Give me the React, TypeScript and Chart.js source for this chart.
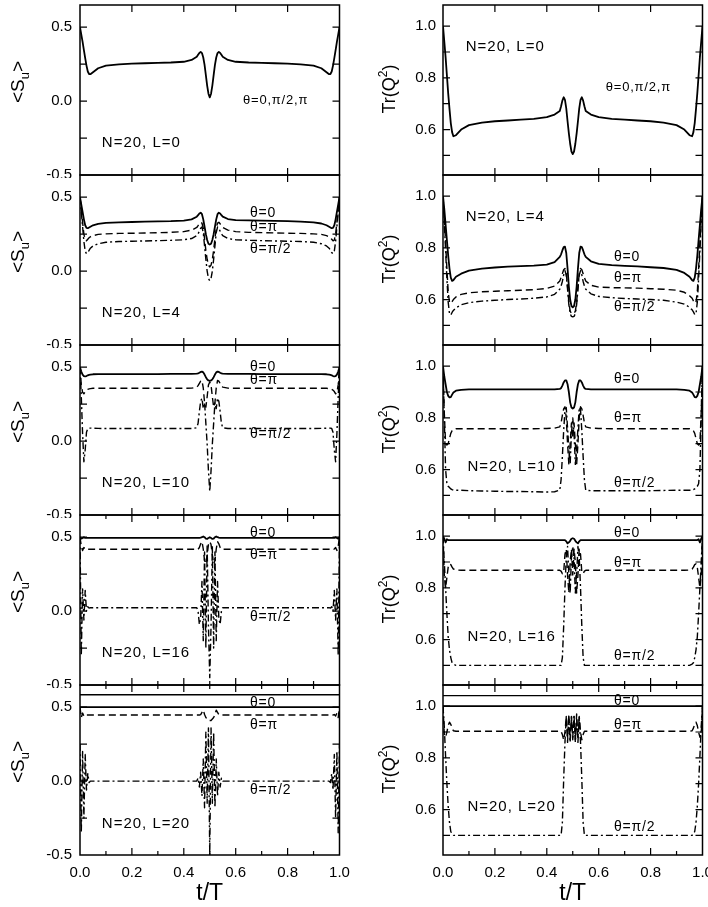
import React, { useEffect, useRef } from 'react';
import { Chart, registerables } from 'chart.js';

Chart.register(...registerables);

// ---------------- data ----------------
// shared time grid t/T
const T = [
  0, 0.005, 0.01, 0.015, 0.02, 0.025, 0.03, 0.035, 0.04, 0.05,
  0.07, 0.1, 0.15, 0.2, 0.25, 0.3, 0.35, 0.4, 0.43, 0.45,
  0.455, 0.46, 0.465, 0.47, 0.475, 0.48, 0.485, 0.49, 0.495, 0.5,
  0.505, 0.51, 0.515, 0.52, 0.525, 0.53, 0.535, 0.54, 0.545, 0.55,
  0.57, 0.6, 0.65, 0.7, 0.75, 0.8, 0.85, 0.9, 0.93, 0.95,
  0.96, 0.965, 0.97, 0.975, 0.98, 0.985, 0.99, 0.995, 1,
];

// L = 0 (all theta coincide)
const s_L0 = [
  0.50, 0.45, 0.40, 0.345, 0.29, 0.24, 0.20, 0.183, 0.182, 0.195,
  0.222, 0.240, 0.248, 0.253, 0.256, 0.258, 0.261, 0.266, 0.278, 0.300,
  0.313, 0.326, 0.333, 0.325, 0.295, 0.245, 0.175, 0.105, 0.05, 0.025,
  0.05, 0.105, 0.175, 0.245, 0.295, 0.325, 0.333, 0.326, 0.313, 0.300,
  0.278, 0.266, 0.261, 0.258, 0.256, 0.253, 0.248, 0.240, 0.222, 0.195,
  0.182, 0.183, 0.20, 0.24, 0.29, 0.345, 0.40, 0.45, 0.50,
];
const q_L0 = [
  1.00, 0.94, 0.88, 0.81, 0.74, 0.68, 0.625, 0.59, 0.574, 0.578,
  0.600, 0.617, 0.627, 0.632, 0.635, 0.638, 0.641, 0.648, 0.658, 0.672,
  0.690, 0.712, 0.725, 0.715, 0.682, 0.632, 0.585, 0.545, 0.515, 0.505,
  0.515, 0.545, 0.585, 0.632, 0.682, 0.715, 0.725, 0.712, 0.690, 0.672,
  0.658, 0.648, 0.641, 0.638, 0.635, 0.632, 0.627, 0.617, 0.600, 0.578,
  0.574, 0.59, 0.625, 0.68, 0.74, 0.81, 0.88, 0.94, 1.00,
];

// L = 4
const s_L4_th0 = [
  0.50, 0.45, 0.40, 0.35, 0.31, 0.292, 0.29, 0.295, 0.30, 0.31,
  0.32, 0.326, 0.330, 0.332, 0.334, 0.336, 0.338, 0.342, 0.350, 0.368,
  0.378, 0.390, 0.395, 0.385, 0.350, 0.300, 0.250, 0.210, 0.185, 0.180,
  0.185, 0.210, 0.250, 0.300, 0.350, 0.385, 0.395, 0.390, 0.378, 0.368,
  0.352, 0.345, 0.343, 0.342, 0.340, 0.338, 0.335, 0.330, 0.322, 0.310,
  0.300, 0.295, 0.290, 0.292, 0.31, 0.35, 0.40, 0.45, 0.50,
];
const s_L4_thPi = [
  0.50, 0.42, 0.33, 0.25, 0.21, 0.205, 0.215, 0.225, 0.232, 0.240,
  0.248, 0.252, 0.255, 0.256, 0.258, 0.260, 0.262, 0.267, 0.277, 0.295,
  0.307, 0.320, 0.330, 0.325, 0.290, 0.220, 0.140, 0.080, 0.040, 0.028,
  0.040, 0.080, 0.140, 0.220, 0.290, 0.325, 0.330, 0.320, 0.307, 0.295,
  0.277, 0.267, 0.262, 0.260, 0.258, 0.256, 0.255, 0.252, 0.248, 0.240,
  0.232, 0.225, 0.215, 0.205, 0.21, 0.25, 0.33, 0.42, 0.50,
];
const s_L4_thHalf = [
  0.50, 0.40, 0.30, 0.20, 0.135, 0.118, 0.125, 0.140, 0.155, 0.170,
  0.185, 0.195, 0.200, 0.202, 0.204, 0.206, 0.208, 0.212, 0.220, 0.240,
  0.252, 0.270, 0.290, 0.298, 0.260, 0.170, 0.080, 0.000, -0.050, -0.065,
  -0.050, 0.000, 0.080, 0.170, 0.260, 0.298, 0.290, 0.270, 0.252, 0.240,
  0.220, 0.212, 0.208, 0.206, 0.204, 0.202, 0.200, 0.195, 0.185, 0.170,
  0.155, 0.140, 0.125, 0.118, 0.135, 0.20, 0.30, 0.40, 0.50,
];
const q_L4_th0 = [
  1.00, 0.95, 0.89, 0.83, 0.77, 0.72, 0.685, 0.672, 0.675, 0.688,
  0.700, 0.712, 0.720, 0.724, 0.727, 0.729, 0.731, 0.735, 0.745, 0.765,
  0.775, 0.790, 0.803, 0.805, 0.780, 0.720, 0.650, 0.600, 0.575, 0.570,
  0.575, 0.600, 0.650, 0.720, 0.780, 0.805, 0.803, 0.790, 0.775, 0.765,
  0.748, 0.738, 0.733, 0.730, 0.728, 0.725, 0.722, 0.715, 0.703, 0.688,
  0.675, 0.672, 0.685, 0.72, 0.77, 0.83, 0.89, 0.95, 1.00,
];
const q_L4_thPi = [
  1.00, 0.92, 0.82, 0.72, 0.63, 0.59, 0.585, 0.592, 0.600, 0.610,
  0.620, 0.626, 0.630, 0.632, 0.634, 0.636, 0.638, 0.643, 0.652, 0.672,
  0.685, 0.700, 0.715, 0.720, 0.700, 0.650, 0.590, 0.555, 0.547, 0.546,
  0.547, 0.555, 0.590, 0.650, 0.700, 0.720, 0.715, 0.700, 0.685, 0.672,
  0.655, 0.648, 0.646, 0.645, 0.644, 0.642, 0.640, 0.636, 0.628, 0.615,
  0.605, 0.595, 0.586, 0.59, 0.63, 0.72, 0.82, 0.92, 1.00,
];
const q_L4_thHalf = [
  1.00, 0.90, 0.79, 0.68, 0.59, 0.545, 0.540, 0.550, 0.558, 0.568,
  0.580, 0.588, 0.594, 0.597, 0.600, 0.602, 0.605, 0.610, 0.620, 0.640,
  0.652, 0.670, 0.695, 0.712, 0.695, 0.640, 0.580, 0.545, 0.535, 0.533,
  0.535, 0.545, 0.580, 0.640, 0.695, 0.712, 0.695, 0.670, 0.652, 0.640,
  0.622, 0.612, 0.607, 0.604, 0.602, 0.600, 0.597, 0.590, 0.582, 0.570,
  0.560, 0.552, 0.542, 0.545, 0.59, 0.68, 0.79, 0.90, 1.00,
];

// L = 10
const s_L10_th0 = [
  0.50, 0.47, 0.45, 0.44, 0.438, 0.44, 0.445, 0.448, 0.45, 0.452,
  0.453, 0.453, 0.453, 0.453, 0.453, 0.453, 0.454, 0.455, 0.455, 0.456,
  0.458, 0.462, 0.468, 0.470, 0.465, 0.450, 0.432, 0.418, 0.410, 0.408,
  0.410, 0.418, 0.432, 0.450, 0.465, 0.470, 0.468, 0.462, 0.458, 0.456,
  0.455, 0.455, 0.454, 0.453, 0.453, 0.453, 0.453, 0.453, 0.453, 0.452,
  0.45, 0.448, 0.445, 0.44, 0.438, 0.44, 0.45, 0.47, 0.50,
];
const s_L10_thPi = [
  0.50, 0.38, 0.33, 0.32, 0.335, 0.345, 0.35, 0.353, 0.355, 0.357,
  0.357, 0.357, 0.357, 0.357, 0.357, 0.357, 0.357, 0.357, 0.358, 0.365,
  0.375, 0.39, 0.405, 0.41, 0.36, 0.26, 0.23, 0.30, 0.38, 0.40,
  0.38, 0.30, 0.23, 0.26, 0.36, 0.41, 0.405, 0.39, 0.375, 0.365,
  0.358, 0.357, 0.357, 0.357, 0.357, 0.357, 0.357, 0.357, 0.357, 0.357,
  0.355, 0.353, 0.35, 0.345, 0.335, 0.32, 0.33, 0.38, 0.50,
];
const s_L10_thHalf = [
  0.50, 0.30, 0.05, -0.14, -0.06, 0.06, 0.085, 0.088, 0.088, 0.087,
  0.086, 0.085, 0.085, 0.085, 0.085, 0.085, 0.085, 0.085, 0.085, 0.09,
  0.12, 0.20, 0.27, 0.29, 0.22, 0.26, 0.12, -0.02, -0.20, -0.34,
  -0.20, -0.02, 0.12, 0.26, 0.22, 0.29, 0.27, 0.20, 0.12, 0.09,
  0.085, 0.085, 0.085, 0.085, 0.085, 0.085, 0.085, 0.085, 0.086, 0.087,
  0.088, 0.088, 0.085, 0.06, -0.06, -0.14, 0.05, 0.30, 0.50,
];
const q_L10_th0 = [
  1.00, 0.96, 0.93, 0.90, 0.885, 0.879, 0.88, 0.89, 0.898, 0.905,
  0.908, 0.910, 0.910, 0.910, 0.910, 0.910, 0.910, 0.910, 0.910, 0.912,
  0.915, 0.925, 0.937, 0.945, 0.945, 0.930, 0.900, 0.860, 0.840, 0.836,
  0.840, 0.860, 0.900, 0.930, 0.945, 0.945, 0.937, 0.925, 0.915, 0.912,
  0.910, 0.910, 0.910, 0.910, 0.910, 0.910, 0.910, 0.910, 0.908, 0.905,
  0.898, 0.89, 0.88, 0.879, 0.885, 0.90, 0.93, 0.96, 1.00,
];
const q_L10_thPi = [
  1.00, 0.82, 0.70, 0.695, 0.70, 0.72, 0.74, 0.75, 0.755, 0.758,
  0.758, 0.758, 0.758, 0.758, 0.758, 0.758, 0.758, 0.759, 0.76, 0.765,
  0.78, 0.81, 0.835, 0.843, 0.80, 0.70, 0.62, 0.70, 0.78, 0.72,
  0.78, 0.70, 0.62, 0.70, 0.80, 0.843, 0.835, 0.81, 0.78, 0.765,
  0.76, 0.759, 0.758, 0.758, 0.758, 0.758, 0.758, 0.758, 0.758, 0.758,
  0.755, 0.75, 0.74, 0.72, 0.70, 0.695, 0.70, 0.82, 1.00,
];
const q_L10_thHalf = [
  1.00, 0.80, 0.60, 0.545, 0.535, 0.53, 0.525, 0.522, 0.52, 0.52,
  0.52, 0.518, 0.517, 0.516, 0.515, 0.515, 0.514, 0.513, 0.514, 0.52,
  0.56, 0.65, 0.75, 0.83, 0.84, 0.76, 0.68, 0.62, 0.74, 0.80,
  0.74, 0.62, 0.68, 0.76, 0.84, 0.83, 0.75, 0.65, 0.56, 0.52,
  0.518, 0.518, 0.518, 0.518, 0.518, 0.518, 0.519, 0.52, 0.52, 0.52,
  0.52, 0.522, 0.525, 0.53, 0.535, 0.545, 0.60, 0.80, 1.00,
];

// L = 16
const s_L16_th0 = [
  0.50, 0.49, 0.495, 0.50, 0.495, 0.495, 0.495, 0.495, 0.495, 0.495,
  0.495, 0.495, 0.495, 0.495, 0.495, 0.495, 0.495, 0.495, 0.495, 0.495,
  0.495, 0.495, 0.497, 0.50, 0.505, 0.50, 0.49, 0.488, 0.495, 0.50,
  0.495, 0.488, 0.49, 0.50, 0.505, 0.50, 0.497, 0.495, 0.495, 0.495,
  0.495, 0.495, 0.495, 0.495, 0.495, 0.495, 0.495, 0.495, 0.495, 0.495,
  0.495, 0.495, 0.495, 0.495, 0.495, 0.50, 0.495, 0.49, 0.50,
];
const s_L16_thPi = [
  0.50, 0.44, 0.41, 0.43, 0.42, 0.415, 0.418, 0.418, 0.418, 0.418,
  0.418, 0.418, 0.418, 0.418, 0.418, 0.418, 0.418, 0.418, 0.418, 0.418,
  0.418, 0.43, 0.455, 0.47, 0.42, 0.34, 0.32, 0.38, 0.45, 0.47,
  0.45, 0.38, 0.32, 0.34, 0.42, 0.47, 0.455, 0.43, 0.418, 0.418,
  0.418, 0.418, 0.418, 0.418, 0.418, 0.418, 0.418, 0.418, 0.418, 0.418,
  0.418, 0.418, 0.418, 0.415, 0.42, 0.43, 0.41, 0.44, 0.50,
];
const s_L16_thHalf = [
  0.50, -0.30, 0.15, -0.06, 0.14, 0.0, 0.03, 0.02, 0.023, 0.023,
  0.023, 0.023, 0.023, 0.023, 0.023, 0.023, 0.023, 0.023, 0.023, 0.023,
  0.0, -0.09, -0.05, 0.20, -0.20, 0.40, -0.25, 0.44, -0.10, -0.45,
  -0.10, 0.44, -0.25, 0.40, -0.20, 0.20, -0.05, -0.09, 0.0, 0.023,
  0.023, 0.023, 0.023, 0.023, 0.023, 0.023, 0.023, 0.023, 0.023, 0.023,
  0.023, 0.02, 0.03, 0.0, 0.14, -0.06, 0.15, -0.30, 0.50,
];
const q_L16_th0 = [
  1.00, 0.99, 0.976, 0.988, 0.985, 0.985, 0.985, 0.985, 0.985, 0.985,
  0.985, 0.985, 0.985, 0.985, 0.985, 0.985, 0.985, 0.985, 0.985, 0.985,
  0.985, 0.985, 0.985, 0.985, 0.98, 0.972, 0.976, 0.982, 0.99, 0.992,
  0.99, 0.982, 0.976, 0.972, 0.98, 0.985, 0.985, 0.985, 0.985, 0.985,
  0.985, 0.985, 0.985, 0.985, 0.985, 0.985, 0.985, 0.985, 0.985, 0.985,
  0.985, 0.985, 0.985, 0.985, 0.985, 0.988, 0.976, 0.99, 1.00,
];
const q_L16_thPi = [
  1.00, 0.85, 0.80, 0.84, 0.88, 0.893, 0.89, 0.88, 0.873, 0.869,
  0.868, 0.868, 0.868, 0.868, 0.868, 0.868, 0.868, 0.868, 0.868, 0.868,
  0.865, 0.855, 0.86, 0.93, 0.95, 0.85, 0.78, 0.90, 0.95, 0.85,
  0.95, 0.90, 0.78, 0.85, 0.95, 0.93, 0.86, 0.855, 0.865, 0.868,
  0.868, 0.868, 0.868, 0.868, 0.868, 0.868, 0.868, 0.868, 0.868, 0.869,
  0.873, 0.88, 0.89, 0.893, 0.88, 0.84, 0.80, 0.85, 1.00,
];
const q_L16_thHalf = [
  1.00, 0.90, 0.80, 0.70, 0.61, 0.56, 0.53, 0.51, 0.505, 0.50,
  0.50, 0.50, 0.50, 0.50, 0.50, 0.50, 0.50, 0.50, 0.50, 0.50,
  0.50, 0.53, 0.65, 0.80, 0.92, 0.96, 0.85, 0.78, 0.92, 0.96,
  0.92, 0.78, 0.85, 0.96, 0.92, 0.80, 0.65, 0.53, 0.50, 0.50,
  0.50, 0.50, 0.50, 0.50, 0.50, 0.50, 0.50, 0.50, 0.50, 0.50,
  0.505, 0.51, 0.53, 0.56, 0.61, 0.70, 0.80, 0.90, 1.00,
];

// L = 20
const s_L20_th0 = [
  0.5, 0.5, 0.5, 0.5, 0.5, 0.5, 0.5, 0.5, 0.5, 0.5,
  0.5, 0.5, 0.5, 0.5, 0.5, 0.5, 0.5, 0.5, 0.5, 0.5,
  0.5, 0.5, 0.5, 0.5, 0.5, 0.5, 0.5, 0.5, 0.5, 0.5,
  0.5, 0.5, 0.5, 0.5, 0.5, 0.5, 0.5, 0.5, 0.5, 0.5,
  0.5, 0.5, 0.5, 0.5, 0.5, 0.5, 0.5, 0.5, 0.5, 0.5,
  0.5, 0.5, 0.5, 0.5, 0.5, 0.5, 0.5, 0.5, 0.5,
];
const s_L20_thPi = [
  0.50, 0.43, 0.46, 0.44, 0.45, 0.447, 0.447, 0.447, 0.447, 0.447,
  0.447, 0.447, 0.447, 0.447, 0.447, 0.447, 0.447, 0.447, 0.447, 0.447,
  0.447, 0.447, 0.45, 0.465, 0.48, 0.45, 0.43, 0.42, 0.41, 0.41,
  0.41, 0.42, 0.43, 0.45, 0.48, 0.465, 0.45, 0.447, 0.447, 0.447,
  0.447, 0.447, 0.447, 0.447, 0.447, 0.447, 0.447, 0.447, 0.447, 0.447,
  0.447, 0.447, 0.447, 0.447, 0.45, 0.44, 0.46, 0.43, 0.50,
];
const s_L20_thHalf = [
  0.25, -0.35, 0.20, -0.25, 0.18, -0.06, 0.05, -0.01, 0.0, 0.0,
  0.0, 0.0, 0.0, 0.0, 0.0, 0.0, 0.0, 0.0, 0.0, 0.0,
  0.02, -0.04, 0.06, -0.10, 0.15, -0.18, 0.33, -0.15, 0.36, -0.50,
  0.36, -0.15, 0.33, -0.18, 0.15, -0.10, 0.06, -0.04, 0.02, 0.0,
  0.0, 0.0, 0.0, 0.0, 0.0, 0.0, 0.0, 0.0, 0.0, 0.0,
  0.0, -0.01, 0.05, -0.06, 0.18, -0.25, 0.20, -0.35, 0.25,
];
const q_L20_th0 = [
  1, 1, 1, 1, 1, 1, 1, 1, 1, 1,
  1, 1, 1, 1, 1, 1, 1, 1, 1, 1,
  1, 1, 1, 1, 1, 1, 1, 1, 1, 1,
  1, 1, 1, 1, 1, 1, 1, 1, 1, 1,
  1, 1, 1, 1, 1, 1, 1, 1, 1, 1,
  1, 1, 1, 1, 1, 1, 1, 1, 1,
];
const q_L20_thPi = [
  1.00, 0.89, 0.88, 0.90, 0.925, 0.938, 0.93, 0.915, 0.905, 0.903,
  0.903, 0.903, 0.903, 0.903, 0.903, 0.903, 0.903, 0.903, 0.903, 0.903,
  0.903, 0.89, 0.87, 0.90, 0.96, 0.86, 0.97, 0.87, 0.96, 0.88,
  0.96, 0.87, 0.97, 0.86, 0.96, 0.90, 0.87, 0.89, 0.903, 0.903,
  0.903, 0.903, 0.903, 0.903, 0.903, 0.903, 0.903, 0.903, 0.903, 0.903,
  0.905, 0.915, 0.93, 0.938, 0.925, 0.90, 0.88, 0.89, 1.00,
];
const q_L20_thHalf = [
  1.00, 0.92, 0.806, 0.70, 0.613, 0.55, 0.515, 0.505, 0.50, 0.50,
  0.50, 0.50, 0.50, 0.50, 0.50, 0.50, 0.50, 0.50, 0.50, 0.50,
  0.50, 0.55, 0.716, 0.86, 0.96, 0.88, 0.95, 0.86, 0.96, 0.87,
  0.96, 0.86, 0.95, 0.88, 0.96, 0.86, 0.716, 0.55, 0.50, 0.50,
  0.50, 0.50, 0.50, 0.50, 0.50, 0.50, 0.50, 0.50, 0.50, 0.50,
  0.50, 0.505, 0.515, 0.55, 0.613, 0.70, 0.806, 0.92, 1.00,
];

// stray frame line seen just above the top curves of the last row
const s_L20_frame = 0.584;
const q_L20_frame = 1.041;

// axes
const X_LABELS = [0, 0.2, 0.4, 0.6, 0.8, 1.0];
const X_TICKS_COARSE = [0, 0.2, 0.4, 0.6, 0.8, 1.0];
const X_TICKS_FINE = [0, 0.1, 0.2, 0.3, 0.4, 0.5, 0.6, 0.7, 0.8, 0.9, 1.0];
const S_RANGE = [-0.5, 0.65];
const S_TICKS = [-0.5, -0.25, 0, 0.25, 0.5];
const S_LABELS = [-0.5, 0, 0.5];
const Q_RANGE = [0.424, 1.082];
const Q_TICKS = [0.5, 0.6, 0.7, 0.8, 0.9, 1.0];
const Q_LABELS = [0.6, 0.8, 1.0];

// ---------------- layout / style ----------------
const FONT = "'Liberation Sans', Arial, Helvetica, sans-serif";

type Style = 'solid' | 'dash' | 'dashdot';
type Series = { data: number[]; style: Style };
type Note = { text: string; x: number; y: number; size: number };
type Panel = {
  col: 0 | 1;
  row: number;
  series: Series[];
  notes: Note[];
  fine: boolean;
  frame?: number;
};

const big = 15;
const sm = 14;

const panels: Panel[] = [
  {
    col: 0, row: 0, fine: false,
    series: [{ data: s_L0, style: 'solid' }],
    notes: [
      { text: 'N=20, L=0', x: 0.084, y: -0.284, size: big },
      { text: 'θ=0,π/2,π', x: 0.628, y: 0.007, size: 13 },
    ],
  },
  {
    col: 1, row: 0, fine: false,
    series: [{ data: q_L0, style: 'solid' }],
    notes: [
      { text: 'N=20, L=0', x: 0.0875, y: 0.921, size: big },
      { text: 'θ=0,π/2,π', x: 0.627, y: 0.763, size: 13 },
    ],
  },
  {
    col: 0, row: 1, fine: false,
    series: [
      { data: s_L4_th0, style: 'solid' },
      { data: s_L4_thPi, style: 'dash' },
      { data: s_L4_thHalf, style: 'dashdot' },
    ],
    notes: [
      { text: 'N=20, L=4', x: 0.084, y: -0.284, size: big },
      { text: 'θ=0', x: 0.655, y: 0.395, size: sm },
      { text: 'θ=π', x: 0.655, y: 0.30, size: sm },
      { text: 'θ=π/2', x: 0.655, y: 0.147, size: sm },
    ],
  },
  {
    col: 1, row: 1, fine: false,
    series: [
      { data: q_L4_th0, style: 'solid' },
      { data: q_L4_thPi, style: 'dash' },
      { data: q_L4_thHalf, style: 'dashdot' },
    ],
    notes: [
      { text: 'N=20, L=4', x: 0.0875, y: 0.921, size: big },
      { text: 'θ=0', x: 0.659, y: 0.766, size: sm },
      { text: 'θ=π', x: 0.659, y: 0.682, size: sm },
      { text: 'θ=π/2', x: 0.659, y: 0.572, size: sm },
    ],
  },
  {
    col: 0, row: 2, fine: false,
    series: [
      { data: s_L10_th0, style: 'solid' },
      { data: s_L10_thPi, style: 'dash' },
      { data: s_L10_thHalf, style: 'dashdot' },
    ],
    notes: [
      { text: 'N=20, L=10', x: 0.084, y: -0.284, size: big },
      { text: 'θ=0', x: 0.655, y: 0.499, size: sm },
      { text: 'θ=π', x: 0.655, y: 0.413, size: sm },
      { text: 'θ=π/2', x: 0.655, y: 0.048, size: sm },
    ],
  },
  {
    col: 1, row: 2, fine: false,
    series: [
      { data: q_L10_th0, style: 'solid' },
      { data: q_L10_thPi, style: 'dash' },
      { data: q_L10_thHalf, style: 'dashdot' },
    ],
    notes: [
      { text: 'N=20, L=10', x: 0.094, y: 0.611, size: big },
      { text: 'θ=0', x: 0.659, y: 0.949, size: sm },
      { text: 'θ=π', x: 0.659, y: 0.798, size: sm },
      { text: 'θ=π/2', x: 0.659, y: 0.549, size: sm },
    ],
  },
  {
    col: 0, row: 3, fine: true,
    series: [
      { data: s_L16_th0, style: 'solid' },
      { data: s_L16_thPi, style: 'dash' },
      { data: s_L16_thHalf, style: 'dashdot' },
    ],
    notes: [
      { text: 'N=20, L=16', x: 0.084, y: -0.285, size: big },
      { text: 'θ=0', x: 0.655, y: 0.526, size: sm },
      { text: 'θ=π', x: 0.655, y: 0.379, size: sm },
      { text: 'θ=π/2', x: 0.655, y: -0.042, size: sm },
    ],
  },
  {
    col: 1, row: 3, fine: true,
    series: [
      { data: q_L16_th0, style: 'solid' },
      { data: q_L16_thPi, style: 'dash' },
      { data: q_L16_thHalf, style: 'dashdot' },
    ],
    notes: [
      { text: 'N=20, L=16', x: 0.094, y: 0.61, size: big },
      { text: 'θ=0', x: 0.659, y: 1.011, size: sm },
      { text: 'θ=π', x: 0.659, y: 0.895, size: sm },
      { text: 'θ=π/2', x: 0.659, y: 0.536, size: sm },
    ],
  },
  {
    col: 0, row: 4, fine: true, frame: s_L20_frame,
    series: [
      { data: s_L20_th0, style: 'solid' },
      { data: s_L20_thPi, style: 'dash' },
      { data: s_L20_thHalf, style: 'dashdot' },
    ],
    notes: [
      { text: 'N=20, L=20', x: 0.084, y: -0.29, size: big },
      { text: 'θ=0', x: 0.655, y: 0.53, size: sm },
      { text: 'θ=π', x: 0.655, y: 0.379, size: sm },
      { text: 'θ=π/2', x: 0.655, y: -0.06, size: sm },
    ],
  },
  {
    col: 1, row: 4, fine: true, frame: q_L20_frame,
    series: [
      { data: q_L20_th0, style: 'solid' },
      { data: q_L20_thPi, style: 'dash' },
      { data: q_L20_thHalf, style: 'dashdot' },
    ],
    notes: [
      { text: 'N=20, L=20', x: 0.094, y: 0.611, size: big },
      { text: 'θ=0', x: 0.659, y: 1.021, size: sm },
      { text: 'θ=π', x: 0.659, y: 0.927, size: sm },
      { text: 'θ=π/2', x: 0.659, y: 0.533, size: sm },
    ],
  },
];

const LAST_ROW = 4;

function geometry(p: Panel) {
  const col = p.col === 0
    ? { left: 0, w: 354, yW: 80, padR: 14.5, tickPad: 8, titleX: 17, titleDy: -8 }
    : { left: 354, w: 354, yW: 89, padR: 5.5, tickPad: 7, titleX: 35, titleDy: -1 };
  const last = p.row === LAST_ROW;
  return {
    ...col,
    top: 170 * p.row,
    h: last ? 227 : 178,
    padT: 5,
    padB: last ? 0 : 3,
    last,
  };
}

function dashFor(s: Style): number[] {
  if (s === 'dash') return [7, 4];
  if (s === 'dashdot') return [7, 3, 2, 3];
  return [];
}

function drawRotatedTitle(ctx: CanvasRenderingContext2D, col: 0 | 1, cx: number, cy: number) {
  const parts = col === 0
    ? [
        { t: '<S', size: 19, dy: 0 },
        { t: 'u', size: 13, dy: 5 },
        { t: '>', size: 19, dy: 0 },
      ]
    : [
        { t: 'Tr(Q', size: 18, dy: 0 },
        { t: '2', size: 12, dy: -8 },
        { t: ')', size: 18, dy: 0 },
      ];
  ctx.save();
  ctx.translate(cx, cy);
  ctx.rotate(-Math.PI / 2);
  ctx.fillStyle = '#000';
  ctx.textBaseline = 'alphabetic';
  ctx.textAlign = 'left';
  let total = 0;
  const widths = parts.map((pt) => {
    ctx.font = `${pt.size}px ${FONT}`;
    const w = ctx.measureText(pt.t).width;
    total += w;
    return w;
  });
  let x = -total / 2;
  const base = parts[0].size * 0.716 / 2;
  parts.forEach((pt, i) => {
    ctx.font = `${pt.size}px ${FONT}`;
    ctx.fillText(pt.t, x, base + pt.dy);
    x += widths[i];
  });
  ctx.restore();
}

function makeOverlay(p: Panel) {
  const g = geometry(p);
  const yTicks = p.col === 0 ? S_TICKS : Q_TICKS;
  const xTicks = p.fine ? X_TICKS_FINE : X_TICKS_COARSE;
  return {
    id: 'panelOverlay',
    afterDraw(chart: any) {
      const { ctx, chartArea: a, scales } = chart;
      const xs = scales.x;
      const ys = scales.y;
      ctx.save();
      ctx.strokeStyle = '#000';
      ctx.lineWidth = 1.5;
      ctx.strokeRect(a.left, a.top, a.right - a.left, a.bottom - a.top);

      ctx.lineWidth = 1.2;
      ctx.beginPath();
      for (const v of xTicks) {
        if (v <= 1e-6 || v >= 1 - 1e-6) continue;
        const px = xs.getPixelForValue(v);
        const major = Math.abs(v * 5 - Math.round(v * 5)) < 1e-6;
        const len = major ? 7 : 4;
        ctx.moveTo(px, a.bottom);
        ctx.lineTo(px, a.bottom - len);
        ctx.moveTo(px, a.top);
        ctx.lineTo(px, a.top + len);
      }
      for (const v of yTicks) {
        const py = ys.getPixelForValue(v);
        if (py >= a.bottom - 0.5 || py <= a.top + 0.5) continue;
        ctx.moveTo(a.left, py);
        ctx.lineTo(a.left + 7, py);
        ctx.moveTo(a.right, py);
        ctx.lineTo(a.right - 7, py);
      }
      ctx.stroke();

      // y-axis title
      drawRotatedTitle(ctx, p.col, g.titleX, (a.top + a.bottom) / 2 + g.titleDy);

      // in-plot annotations
      ctx.fillStyle = '#000';
      ctx.textAlign = 'left';
      ctx.textBaseline = 'middle';
      for (const n of p.notes) {
        ctx.font = `${n.size}px ${FONT}`;
        (ctx as any).letterSpacing = n.size >= 15 ? '1px' : '0.8px';
        ctx.fillText(n.text, xs.getPixelForValue(n.x), ys.getPixelForValue(n.y));
      }
      (ctx as any).letterSpacing = '0px';
      ctx.restore();
    },
  };
}

function buildConfig(p: Panel): any {
  const g = geometry(p);
  const range = p.col === 0 ? S_RANGE : Q_RANGE;
  const yLabels = p.col === 0 ? S_LABELS : Q_LABELS;
  const datasets: any[] = p.series.map((s) => ({
    data: T.map((t, i) => ({ x: t, y: s.data[i] })),
    borderColor: '#000',
    borderWidth: s.style === 'solid' ? 1.8 : 1.4,
    borderDash: dashFor(s.style),
    pointRadius: 0,
    fill: false,
    tension: 0,
    borderJoinStyle: 'round',
  }));
  if (p.frame !== undefined) {
    datasets.push({
      data: [{ x: 0, y: p.frame }, { x: 1, y: p.frame }],
      borderColor: '#000',
      borderWidth: 1.3,
      pointRadius: 0,
      fill: false,
    });
  }
  return {
    type: 'line',
    data: { datasets },
    options: {
      animation: false,
      responsive: false,
      maintainAspectRatio: false,
      events: [],
      layout: { padding: { top: g.padT, right: g.padR, bottom: g.padB, left: 0 } },
      plugins: {
        legend: { display: false },
        tooltip: { enabled: false },
        title: { display: false },
      },
      scales: {
        x: {
          type: 'linear',
          min: 0,
          max: 1,
          display: g.last,
          grid: { display: false, drawTicks: false },
          border: { display: false },
          afterBuildTicks: (s: any) => {
            s.ticks = X_LABELS.map((v) => ({ value: v }));
          },
          afterFit: (s: any) => {
            s.height = g.last ? 52 : 0;
            s.paddingLeft = 0;
            s.paddingRight = 0;
          },
          ticks: {
            padding: 9,
            color: '#000',
            maxRotation: 0,
            autoSkip: false,
            font: { family: FONT, size: 15 },
            callback: (v: any) => Number(v).toFixed(1),
          },
          title: {
            display: true,
            text: 't/T',
            color: '#000',
            font: { family: FONT, size: 23 },
            padding: { top: 0, bottom: 0 },
          },
        },
        y: {
          type: 'linear',
          min: range[0],
          max: range[1],
          grid: { display: false, drawTicks: false },
          border: { display: false },
          afterBuildTicks: (s: any) => {
            s.ticks = yLabels.map((v) => ({ value: v }));
          },
          afterFit: (s: any) => {
            s.width = g.yW;
            s.paddingTop = 0;
            s.paddingBottom = 0;
          },
          ticks: {
            padding: g.tickPad,
            color: '#000',
            autoSkip: false,
            font: { family: FONT, size: 15 },
            callback: (v: any) => Number(v).toFixed(1),
          },
        },
      },
    },
    plugins: [makeOverlay(p)],
  };
}

function PanelChart({ p }: { p: Panel }) {
  const ref = useRef<HTMLCanvasElement>(null);
  const g = geometry(p);
  useEffect(() => {
    if (!ref.current) return;
    const chart = new Chart(ref.current, buildConfig(p));
    return () => chart.destroy();
  }, []);
  return (
    <canvas
      ref={ref}
      width={g.w}
      height={g.h}
      style={{ position: 'absolute', left: g.left, top: g.top, width: g.w, height: g.h }}
    />
  );
}

export default function App() {
  return (
    <div style={{ position: 'absolute', left: 0, top: 0, width: 708, height: 907, background: '#fff' }}>
      {panels.map((p) => (
        <PanelChart key={`${p.col}-${p.row}`} p={p} />
      ))}
    </div>
  );
}
